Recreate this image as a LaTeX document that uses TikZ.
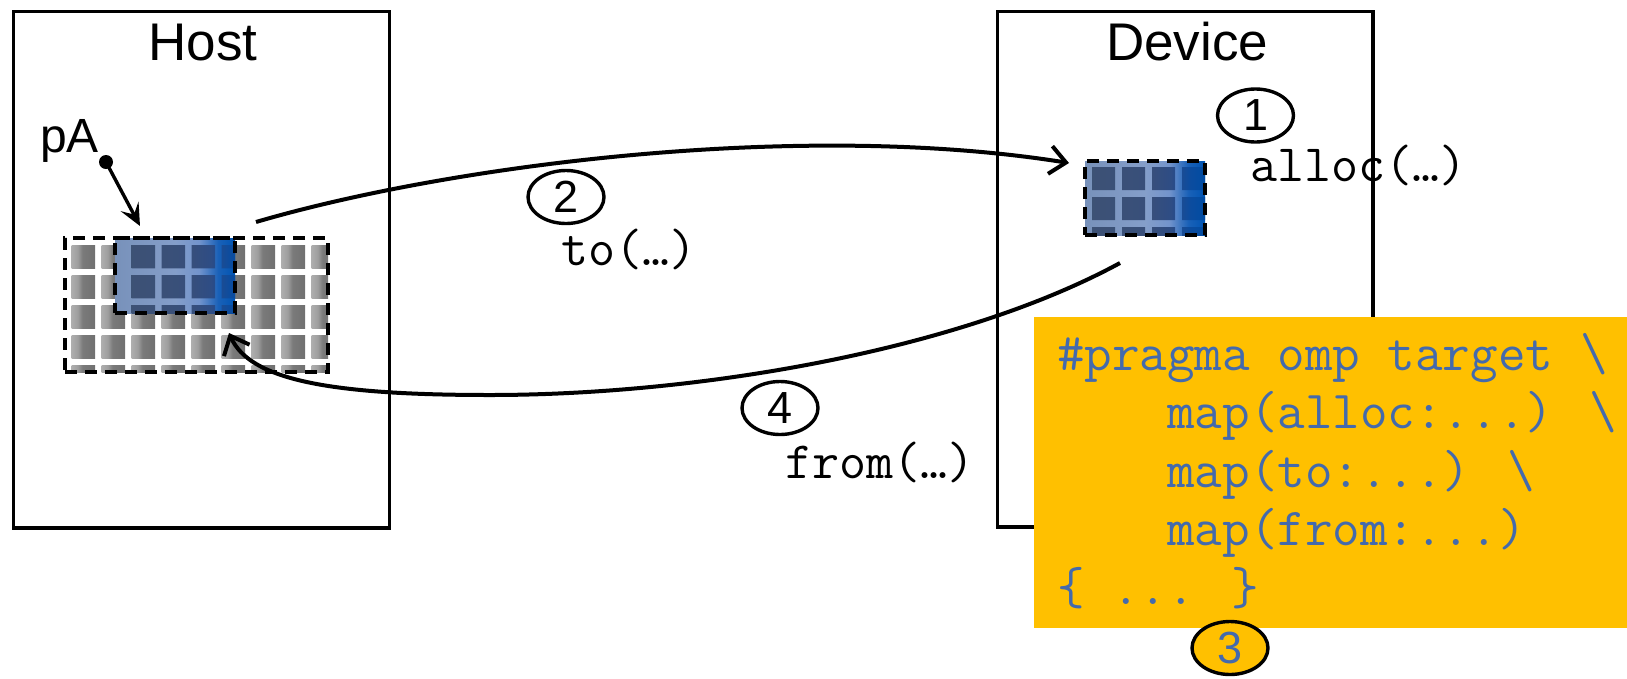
\documentclass[tikz,border=0pt]{standalone}
\usepackage{fontspec}
\setmainfont{Liberation Sans}
\usetikzlibrary{arrows.meta,shapes.geometric}

\definecolor{codeblue}{RGB}{68,106,172}
\definecolor{boxyellow}{RGB}{255,192,0}

\pgfdeclarehorizontalshading{bluebg}{100bp}{rgb(0bp)=(0.47,0.57,0.73); rgb(25bp)=(0.47,0.57,0.73); rgb(50bp)=(0.52,0.62,0.79); rgb(60bp)=(0.45,0.58,0.80); rgb(68bp)=(0.10,0.38,0.72); rgb(75bp)=(0.0,0.33,0.70); rgb(100bp)=(0.0,0.33,0.70)}
\pgfdeclarehorizontalshading{bluecell}{100bp}{rgb(0bp)=(0.24,0.32,0.46); rgb(25bp)=(0.24,0.32,0.46); rgb(50bp)=(0.22,0.31,0.48); rgb(60bp)=(0.18,0.30,0.52); rgb(68bp)=(0.05,0.30,0.62); rgb(75bp)=(0.0,0.30,0.64); rgb(100bp)=(0.0,0.30,0.64)}
\pgfdeclarehorizontalshading{graycell}{100bp}{gray(0bp)=(0.68); gray(25bp)=(0.68); gray(38bp)=(0.62); gray(48bp)=(0.48); gray(75bp)=(0.44); gray(100bp)=(0.44)}

\begin{document}
\begin{tikzpicture}[x=1pt,y=-1pt,
  framebox/.style={draw, line width=3.6pt, inner sep=0pt},
  dashbox/.style={draw, line width=3.3pt, dash pattern=on 12pt off 8pt, inner sep=0pt},
  numcirc/.style={ellipse, draw, line width=3.4pt, minimum width=76pt, minimum height=53pt, inner sep=0pt, font=\fontsize{45}{54}\selectfont},
  lbl/.style={font=\ttfamily\fontsize{52.5}{60}\selectfont, anchor=base west, inner sep=0pt},
  codeline/.style={font=\ttfamily\fontsize{53.5}{58.5}\selectfont, text=codeblue, anchor=base west, inner sep=0pt},
  titletext/.style={font=\fontsize{53}{60}\selectfont, anchor=base, inner sep=0pt},
  conn/.style={line width=4pt, -{Straight Barb[length=16pt,width=28pt]}},
  ptr/.style={line width=3.4pt, -{Stealth[length=22pt,width=20pt,inset=9pt]}}
]
\useasboundingbox (0,0) rectangle (1627,678);

% labels
\node[lbl] (lalloc) at (1250,181) {alloc(…)};
\node[lbl] (lto) at (561,265) {to(…)};
\node[lbl] (lfrom) at (785,478) {from(…)};

% frames
\node[framebox, minimum width=376pt, minimum height=516.5pt] (host) at (201.5,269.75) {};
\node[framebox, minimum width=375.5pt, minimum height=515.5pt] (device) at (1185.25,269.25) {};
\node[titletext] (hosttitle) at (203,60) {Host};
\node[titletext] (devtitle) at (1187,60) {Device};

% host gray grid
\begin{scope}
  \clip (65,238) rectangle (328,372);
  \foreach \i in {0,...,8}{\foreach \j in {0,...,4}{
    \shade[shading=graycell] ({71.7+30*\i},{245+30*\j}) rectangle ++(23.3,23.3);
  }}
\end{scope}

% host blue block
\begin{scope}
  \clip (115,238) rectangle (235,313);
  \shade[shading=bluebg] (115,238) rectangle (235,313);
  \shade[shading=bluecell] foreach \i in {0,...,3}{ foreach \j in {0,1,2}{ ({131.7+30*\i},{245+30*\j}) rectangle ++(23.3,23.3) } };
\end{scope}

% device blue block
\begin{scope}
  \clip (1085,161) rectangle (1205,235);
  \shade[shading=bluebg] (1085,161) rectangle (1205,235);
  \shade[shading=bluecell] foreach \i in {0,...,3}{ foreach \j in {0,1,2}{ ({1092+30*\i},{167+30*\j}) rectangle ++(23,23) } };
\end{scope}

\node[dashbox, minimum width=263pt, minimum height=134pt] (hg) at (196.5,305) {};
\node[dashbox, minimum width=120pt, minimum height=75pt] (hb) at (175,275.5) {};
\node[dashbox, minimum width=120pt, minimum height=74pt] (db) at (1145,198) {};

% pointer pA
\node[font=\fontsize{48}{56}\selectfont, anchor=base west, inner sep=0pt] (pA) at (40,152) {pA};
\node[circle, fill, minimum size=14pt, inner sep=0pt] (dot) at (106,162) {};
\coordinate (ptip) at (140,226);
\draw[ptr] (dot.center) -- (ptip);

% step circles
\node[numcirc] (c1) at (1255.5,115.5) {1};
\node[numcirc] (c2) at (566,197) {2};
\node[numcirc] (c4) at (780,408) {4};

% arrows
\coordinate (a2s) at (256,222);
\coordinate (a2e) at (1069,163);
\draw[conn] (a2s) .. controls (450,165) and (800,120) .. (a2e);

\coordinate (a4s) at (1120,263);
\coordinate (a4e) at (229,333);
\draw[conn] (a4s) .. controls (960,350) and (700,395) .. (490,395) .. controls (330,395) and (250,380) .. (a4e);

% code box
\node[fill=boxyellow, minimum width=593pt, minimum height=311pt, anchor=north west, inner sep=0pt] (codebox) at (1034,317) {};
\node[codeline] (code1) at (1057,370) {\#pragma omp target \textbackslash};
\node[codeline] (code2) at (1057,428.5) {\phantom{xxxx}map(alloc:...) \textbackslash};
\node[codeline] (code3) at (1057,487) {\phantom{xxxx}map(to:...) \textbackslash};
\node[codeline] (code4) at (1057,545.5) {\phantom{xxxx}map(from:...)};
\node[codeline] (code5) at (1057,604) {\{ ... \}};

\node[numcirc, fill=boxyellow, text=codeblue] (c3) at (1230,648) {3};
\end{tikzpicture}
\end{document}
